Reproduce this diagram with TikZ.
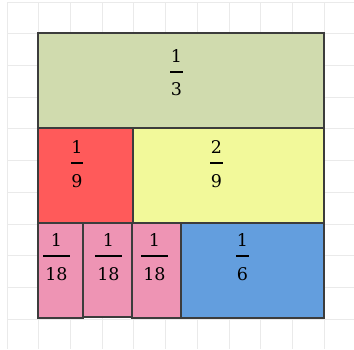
\documentclass[tikz,border=0pt]{standalone}
\usepackage{fontspec}
\setmainfont{DejaVu Serif}
\definecolor{cgreen}{RGB}{208,219,174}
\definecolor{cred}{RGB}{255,90,90}
\definecolor{cyellow}{RGB}{242,249,154}
\definecolor{cpink}{RGB}{238,148,180}
\definecolor{cblue}{RGB}{99,158,222}
\definecolor{cgrid}{RGB}{234,234,234}
\definecolor{cedge}{RGB}{60,60,60}
\tikzset{
  gridline/.style={draw=cgrid, line width=0.8pt},
  piece/.style={draw=cedge, line width=1.3pt},
  lab/.style={inner sep=0pt, anchor=base, font=\fontsize{17.5}{21}\selectfont},
  fbar/.style={line width=2pt, black},
}
% \fracat{name}{x}{ybar}{num}{den}{barwidth}  (y measured from top, in px)
\newcommand{\fracat}[6]{%
  \pgfmathsetmacro{\fy}{349-#3}%
  \node[lab] (#1n) at (#2,\fy+9.5) {#4};
  \node[lab] (#1d) at (#2,\fy-24) {#5};
  \draw[fbar] (#2-#6/2,\fy) -- (#2+#6/2,\fy);
}
\begin{document}
\begin{tikzpicture}[x=1pt,y=1pt]
\useasboundingbox (0,0) rectangle (354,349);
\fill[white] (0,0) rectangle (354,349);
% grid
\foreach \k in {0,...,10} {
  \draw[gridline] (7+31.7*\k,0) -- (7+31.7*\k,347);
  \draw[gridline] (7,347-31.7*\k) -- (354,347-31.7*\k);
}
% pieces (y from top converted: Y = 349 - y)
\path[piece, fill=cgreen]  (38,349-33)  rectangle (324,349-128);
\path[piece, fill=cred]    (38,349-128) rectangle (133,349-223);
\path[piece, fill=cyellow] (133,349-128) rectangle (324,349-223);
\path[piece, fill=cpink]   (38,349-223) rectangle (83,349-318);
\path[piece, fill=cpink]   (83,349-223) rectangle (132,349-317);
\path[piece, fill=cpink]   (132,349-223) rectangle (181,349-318);
\path[piece, fill=cblue]   (181,349-223) rectangle (324,349-318);
% fractions
\fracat{a}{176.5}{72}{1}{3}{13}
\fracat{b}{77}{163}{1}{9}{12}
\fracat{c}{216.5}{163}{2}{9}{13}
\fracat{d}{56.5}{256}{1}{18}{27}
\fracat{e}{108.5}{256}{1}{18}{27}
\fracat{f}{154.5}{256}{1}{18}{27}
\fracat{g}{242.5}{256}{1}{6}{13}
\end{tikzpicture}
\end{document}
